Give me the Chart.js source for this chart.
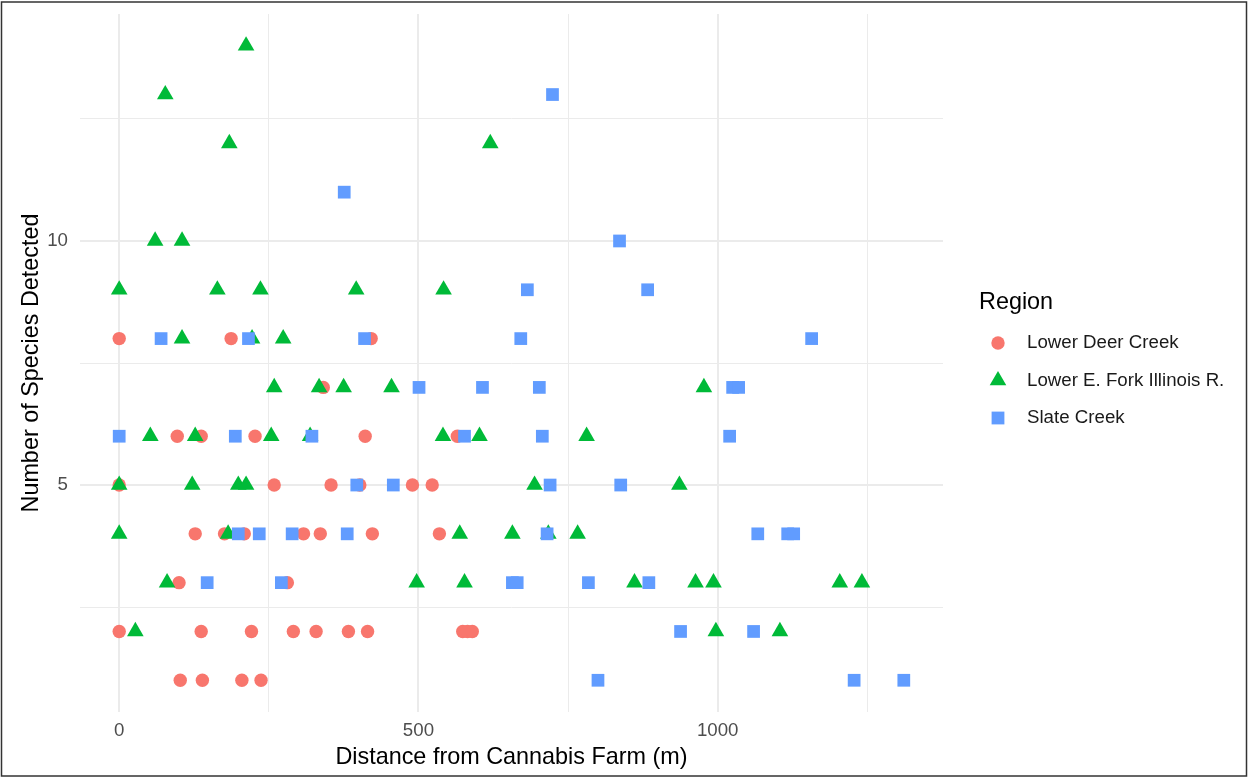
<!DOCTYPE html>
<html>
<head>
<meta charset="utf-8">
<script src="https://cdn.jsdelivr.net/npm/chart.js@4.4.0/dist/chart.umd.min.js"></script>
<style>
  html, body { margin: 0; padding: 0; background: #fff; }
</style>
</head>
<body>
<canvas id="chart" width="1249" height="778"></canvas>
<script>
const regions = ['Lower Deer Creek', 'Lower E. Fork Illinois R.', 'Slate Creek'];
const regionColors = ['#F8766D', '#00BA38', '#619CFF'];

// distance from farm (m) and number of species detected, per site
const deerDistance = [0, 187, 421, 341, 97, 137, 227, 411, 565, 0, 259, 354, 402, 490, 523,
  127, 176, 209, 308, 336, 423, 535, 100, 281, 0, 137, 221, 291, 329, 383, 415, 574, 582, 590,
  102, 139, 205, 237];
const deerSpecies = [8, 8, 8, 7, 6, 6, 6, 6, 6, 5, 5, 5, 5, 5, 5,
  4, 4, 4, 4, 4, 4, 4, 3, 3, 2, 2, 2, 2, 2, 2, 2, 2, 2, 2,
  1, 1, 1, 1];

const forkDistance = [212, 77, 184, 620, 60, 105, 0, 164, 236, 396, 542, 105, 222, 274,
  259, 334, 375, 455, 977, 52, 127, 254, 319, 541, 602, 781, 0, 122, 199, 212, 694, 936,
  0, 182, 569, 657, 717, 766, 80, 497, 577, 861, 963, 993, 1204, 1241, 27, 997, 1104];
const forkSpecies = [14, 13, 12, 12, 10, 10, 9, 9, 9, 9, 9, 8, 8, 8,
  7, 7, 7, 7, 7, 6, 6, 6, 6, 6, 6, 6, 5, 5, 5, 5, 5, 5,
  4, 4, 4, 4, 4, 4, 3, 3, 3, 3, 3, 3, 3, 3, 2, 2, 2];

const slateDistance = [724, 376, 836, 682, 883, 70, 216, 410, 671, 1157, 501, 607, 702, 1025, 1035,
  0, 194, 322, 577, 707, 1020, 397, 458, 720, 838, 199, 234, 289, 381, 715, 1067, 1117, 1127,
  147, 271, 657, 665, 784, 885, 938, 1060, 800, 1228, 1311];
const slateSpecies = [13, 11, 10, 9, 9, 8, 8, 8, 8, 8, 7, 7, 7, 7, 7,
  6, 6, 6, 6, 6, 6, 5, 5, 5, 5, 4, 4, 4, 4, 4, 4, 4, 4,
  3, 3, 3, 3, 3, 3, 2, 2, 1, 1, 1];

const xMajor = [0, 500, 1000];
const xMinor = [250, 750, 1250];
const yMajor = [5, 10];
const yMinor = [2.5, 7.5, 12.5];

const toPoints = (xs, ys) => xs.map((x, i) => ({ x: x, y: ys[i] }));

Chart.defaults.font.family = '"Liberation Sans", Arial, Helvetica, sans-serif';

const gridColor = ctx => '#EBEBEB';
const gridWidth = major => ctx => major.includes(ctx.tick.value) ? 2 : 1;

// ggplot-style key on the right
const regionLegend = {
  id: 'regionLegend',
  afterDraw(chart) {
    const ctx = chart.ctx;
    ctx.save();
    ctx.textBaseline = 'middle';
    ctx.fillStyle = '#000';
    ctx.font = '23.4px "Liberation Sans", Arial, sans-serif';
    ctx.fillText('Region', 979, 303);
    ctx.font = '18.7px "Liberation Sans", Arial, sans-serif';
    regions.forEach((name, i) => {
      const cy = 343 + i * 37.5, cx = 998;
      ctx.fillStyle = regionColors[i];
      ctx.beginPath();
      if (i === 0) {
        ctx.arc(cx, cy, 6.7, 0, Math.PI * 2);
      } else if (i === 1) {
        ctx.moveTo(cx, cy - 9.6);
        ctx.lineTo(cx + 8.3, cy + 4.8);
        ctx.lineTo(cx - 8.3, cy + 4.8);
        ctx.closePath();
      } else {
        ctx.rect(cx - 6.4, cy - 6.4, 12.8, 12.8);
      }
      ctx.fill();
      ctx.fillStyle = '#1A1A1A';
      ctx.fillText(name, 1027, cy);
    });
    // outer frame
    ctx.strokeStyle = '#333';
    ctx.lineWidth = 1.5;
    ctx.strokeRect(1.5, 2, 1245, 774);
    ctx.restore();
  }
};

new Chart(document.getElementById('chart'), {
  type: 'scatter',
  data: {
    datasets: [
      {
        label: regions[0],
        data: toPoints(deerDistance, deerSpecies),
        backgroundColor: regionColors[0],
        pointStyle: 'circle',
        pointRadius: 6.7,
        pointBorderWidth: 0,
        order: 2
      },
      {
        label: regions[1],
        data: toPoints(forkDistance, forkSpecies),
        backgroundColor: regionColors[1],
        pointStyle: 'triangle',
        pointRadius: 9.6,
        pointBorderWidth: 0,
        order: 1
      },
      {
        label: regions[2],
        data: toPoints(slateDistance, slateSpecies),
        backgroundColor: regionColors[2],
        pointStyle: 'rect',
        pointRadius: 9.0,
        pointBorderWidth: 0,
        order: 0
      }
    ]
  },
  options: {
    responsive: false,
    animation: false,
    layout: { padding: { left: 0, right: 306, top: 14, bottom: 0 } },
    plugins: {
      legend: { display: false },
      tooltip: { enabled: false }
    },
    scales: {
      x: {
        type: 'linear',
        min: -65.5,
        max: 1376.5,
        afterBuildTicks: s => { s.ticks = xMajor.concat(xMinor).sort((a, b) => a - b).map(v => ({ value: v })); },
        afterFit: s => { s.height = 66; s.paddingLeft = 0; s.paddingRight = 0; },
        border: { display: false },
        grid: { color: gridColor, lineWidth: gridWidth(xMajor), drawTicks: false },
        ticks: {
          autoSkip: false,
          maxRotation: 0,
          padding: 8,
          color: '#4D4D4D',
          font: { size: 18.7 },
          callback: v => xMajor.includes(v) ? String(v) : ''
        },
        title: {
          display: true,
          text: 'Distance from Cannabis Farm (m)',
          color: '#000',
          font: { size: 23.4 },
          padding: { top: 0, bottom: 6 }
        }
      },
      y: {
        type: 'linear',
        min: 0.35,
        max: 14.65,
        afterBuildTicks: s => { s.ticks = yMajor.concat(yMinor).sort((a, b) => a - b).map(v => ({ value: v })); },
        afterFit: s => { s.width = 80; s.paddingTop = 0; s.paddingBottom = 0; },
        border: { display: false },
        grid: { color: gridColor, lineWidth: gridWidth(yMajor), drawTicks: false },
        ticks: {
          autoSkip: false,
          padding: 12,
          color: '#4D4D4D',
          font: { size: 18.7 },
          callback: v => yMajor.includes(v) ? String(v) : ''
        },
        title: {
          display: true,
          text: 'Number of Species Detected',
          color: '#000',
          font: { size: 23.4 },
          padding: { top: 18, bottom: 0 }
        }
      }
    }
  },
  plugins: [regionLegend]
});
</script>
</body>
</html>
